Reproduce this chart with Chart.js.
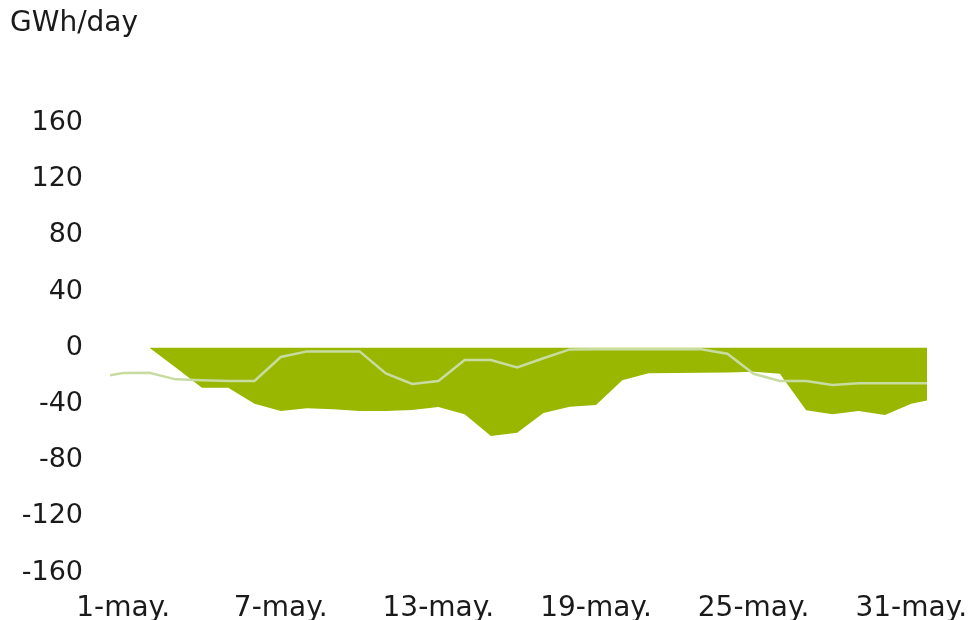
<!DOCTYPE html>
<html>
<head>
<meta charset="utf-8">
<script src="https://cdn.jsdelivr.net/npm/chart.js@4"></script>
<style>
  html, body { margin: 0; padding: 0; background: #fff; }
  #wrap { width: 974px; height: 620px; }
</style>
</head>
<body>
<div id="wrap"><canvas id="c" width="974" height="620"></canvas></div>
<script>
// Day numbers of May (0 = 30 April, 32 = 1 June, both only partly visible at the edges)
const days = [0, 1, 2, 3, 4, 5, 6, 7, 8, 9, 10, 11, 12, 13, 14, 15, 16,
              17, 18, 19, 20, 21, 22, 23, 24, 25, 26, 27, 28, 29, 30, 31, 32];

// Daily balance, GWh/day (filled area)
const balance = [null, null, 0, -14, -28.4, -28.4, -39.8, -45, -43.1, -43.8, -45, -45, -44.3,
                 -42.2, -47.4, -62.8, -60.6, -46.5, -42, -40.8, -23.2, -18.2, -18, -17.8,
                 -17.6, -17, -18.5, -44.5, -47.4, -45, -47.9, -39.8, -36];

// Reference level, GWh/day (thin line)
const reference = [-21, -18, -17.8, -22.5, -23.2, -23.7, -23.7, -6.6, -2.6, -2.6, -2.6, -18.3,
                   -25.8, -23.7, -8.8, -8.8, -14, -7.5, -1.2, -1, -1, -1, -1, -1, -4.3, -18.5,
                   -23.7, -23.7, -26.5, -25.3, -25.3, -25.3, -25.3];

// Labelled days on the horizontal axis
const tickDays = [1, 7, 13, 19, 25, 31];
const tickLabels = ['1-may.', '7-may.', '13-may.', '19-may.', '25-may.', '31-may.'];

// Vertical axis ticks
const yTicks = [-160, -120, -80, -40, 0, 40, 80, 120, 160];

const FONT = 'DejaVu Sans, Verdana, sans-serif';

const pts = arr => days.map((d, i) => ({ x: d, y: arr[i] }));

new Chart(document.getElementById('c'), {
  type: 'line',
  data: {
    datasets: [
      {
        label: 'reference',
        data: pts(reference),
        borderColor: '#c8dca2',
        borderWidth: 2.5,
        pointRadius: 0,
        fill: false,
        tension: 0,
        clip: 0,
        order: 0
      },
      {
        label: 'balance',
        data: pts(balance),
        borderWidth: 0,
        borderColor: 'rgba(0,0,0,0)',
        backgroundColor: '#9ab700',
        pointRadius: 0,
        fill: 'origin',
        spanGaps: false,
        tension: 0,
        clip: 0,
        order: 1
      }
    ]
  },
  options: {
    responsive: false,
    animation: false,
    devicePixelRatio: 1,
    layout: { padding: { left: 10, right: 47, top: 0, bottom: 0 } },
    plugins: {
      legend: { display: false },
      tooltip: { enabled: false },
      title: {
        display: true,
        text: 'GWh/day',
        align: 'start',
        color: '#1a1a1a',
        font: { family: FONT, size: 28, weight: 'normal' },
        padding: { top: 6.5, bottom: 82.9 }
      }
    },
    scales: {
      x: {
        type: 'linear',
        min: 0.5,
        max: 31.6,
        grid: { display: false, drawTicks: false },
        border: { display: false },
        afterBuildTicks: s => { s.ticks = tickDays.map(v => ({ value: v })); },
        afterFit: s => {
          s.height = 47.5;
          // edge labels may overhang the plot; keep the plot width fixed
          s.paddingLeft = 0;
          s.paddingRight = 0;
        },
        ticks: {
          autoSkip: false,
          maxRotation: 0,
          padding: 19,
          color: '#1a1a1a',
          font: { family: FONT, size: 28 },
          callback: v => tickLabels[tickDays.indexOf(v)]
        }
      },
      y: {
        min: -160,
        max: 160,
        grid: { display: false, drawTicks: false },
        border: { display: false },
        afterBuildTicks: s => { s.ticks = yTicks.map(v => ({ value: v })); },
        afterFit: s => { s.width = 100; },
        ticks: {
          padding: 27,
          color: '#1a1a1a',
          font: { family: FONT, size: 27 }
        }
      }
    }
  }
});
</script>
</body>
</html>
